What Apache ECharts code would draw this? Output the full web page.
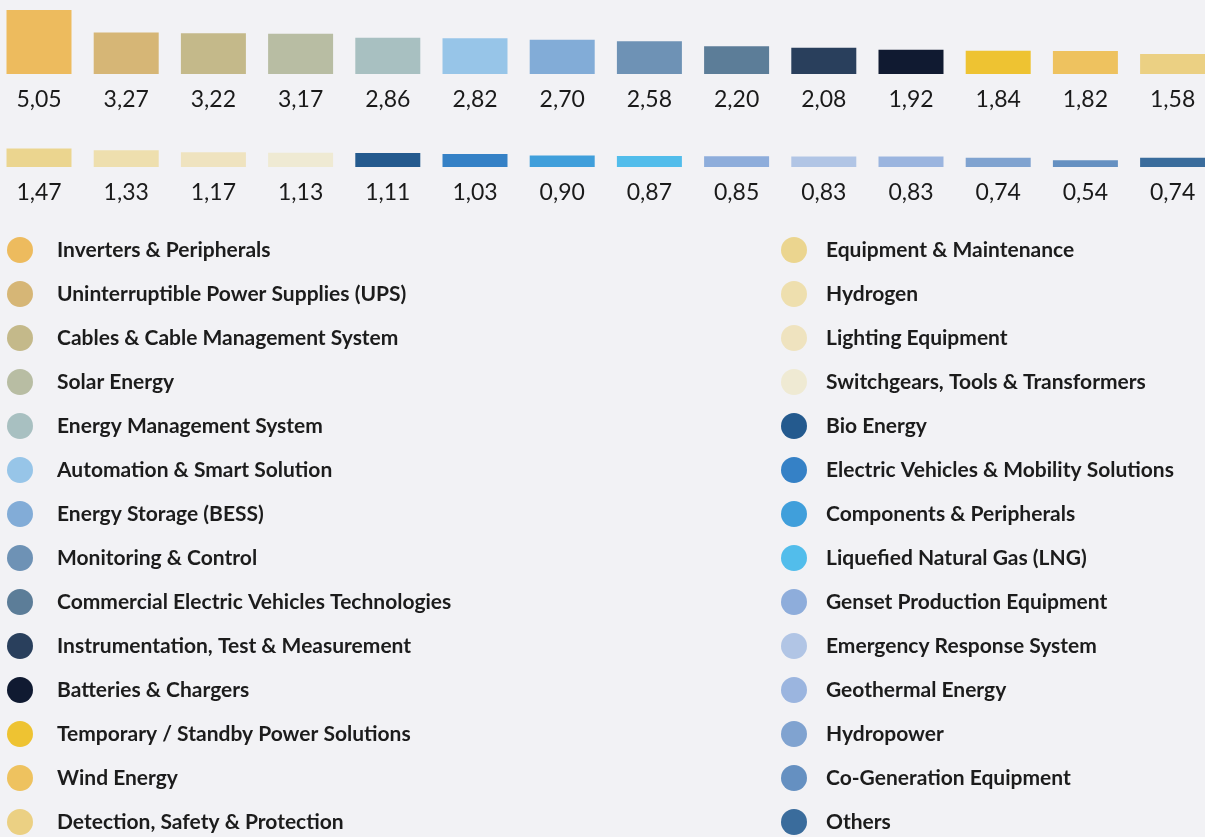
<!DOCTYPE html>
<html>
<head>
<meta charset="utf-8">
<script src="https://cdn.jsdelivr.net/npm/echarts@6/dist/echarts.min.js"></script>
<style>
  html, body { margin: 0; padding: 0; background: #f2f2f5; }
  #chart { width: 1205px; height: 837px; }
</style>
</head>
<body>
<div id="chart"></div>
<script>
// 第一行的类别和数值
var categories1 = [
  "Inverters & Peripherals",
  "Uninterruptible Power Supplies (UPS)",
  "Cables & Cable Management System",
  "Solar Energy",
  "Energy Management System",
  "Automation & Smart Solution",
  "Energy Storage (BESS)",
  "Monitoring & Control",
  "Commercial Electric Vehicles Technologies",
  "Instrumentation, Test & Measurement",
  "Batteries & Chargers",
  "Temporary / Standby Power Solutions",
  "Wind Energy",
  "Detection, Safety & Protection"
];
var values1 = [5.05, 3.27, 3.22, 3.17, 2.86, 2.82, 2.70, 2.58, 2.20, 2.08, 1.92, 1.84, 1.82, 1.58];
var colors1 = ["#edbb5e", "#d6b676", "#c4b98a", "#b8bda3", "#a8c0c1", "#97c5e8", "#82acd7",
               "#6e92b5", "#5c7d98", "#293f5c", "#101a31", "#eec332", "#eec25f", "#ebd083"];

// 第二行
var categories2 = [
  "Equipment & Maintenance",
  "Hydrogen",
  "Lighting Equipment",
  "Switchgears, Tools & Transformers",
  "Bio Energy",
  "Electric Vehicles & Mobility Solutions",
  "Components & Peripherals",
  "Liquefied Natural Gas (LNG)",
  "Genset Production Equipment",
  "Emergency Response System",
  "Geothermal Energy",
  "Hydropower",
  "Co-Generation Equipment",
  "Others"
];
var values2 = [1.47, 1.33, 1.17, 1.13, 1.11, 1.03, 0.90, 0.87, 0.85, 0.83, 0.83, 0.74, 0.54, 0.74];
var colors2 = ["#ebd58f", "#eedfae", "#efe3bf", "#efead3", "#245a8e", "#3581c6", "#409fdb",
               "#52bdeb", "#8eaddb", "#b1c5e5", "#9bb5df", "#80a3d0", "#6590c1", "#3a6c9c"];

(function() {
  var myChart = echarts.init(document.getElementById("chart"));
  var FONT = "Lato";

  // 每个类别一个系列，这样图例可以对应颜色
  function makeSeries(names, values, colors, axisIdx) {
    return names.map(function(name, i) {
      var data = values.map(function(v, j) { return j === i ? v : "-"; });
      return {
        name: name,
        type: "bar",
        xAxisIndex: axisIdx,
        yAxisIndex: axisIdx,
        data: data,
        barWidth: 65,
        barGap: "-100%",
        itemStyle: { color: colors[i] },
        label: {
          show: true,
          position: "bottom",
          distance: 14,
          fontFamily: FONT,
          fontSize: 23,
          color: "#1a1a1a",
          formatter: function(p) {
            return Number(p.value).toFixed(2).replace(".", ",");
          }
        }
      };
    });
  }

  function xAxis(names, idx) {
    return {
      type: "category",
      gridIndex: idx,
      data: names,
      axisLine: { show: false },
      axisTick: { show: false },
      axisLabel: { show: false }
    };
  }

  var legendBase = {
    orient: "vertical",
    top: 232,
    height: 640,
    icon: "circle",
    itemWidth: 26,
    itemHeight: 26,
    itemGap: 18,
    selectedMode: false,
    textStyle: {
      fontFamily: FONT,
      fontSize: 21,
      fontWeight: "bold",
      color: "#1c1c1c"
    }
  };

  var option = {
    backgroundColor: "#f2f2f5",
    animation: false,
    // 图表被裁切，网格要超出画布
    grid: [
      { left: -4.6, right: -11.2, top: -2, height: 76, outerBoundsMode: "none" },
      { left: -4.6, right: -11.2, top: 141.7, height: 25.3, outerBoundsMode: "none" }
    ],
    xAxis: [xAxis(categories1, 0), xAxis(categories2, 1)],
    yAxis: [
      { type: "value", gridIndex: 0, min: 0, max: 6, show: false },
      { type: "value", gridIndex: 1, min: 0, max: 2, show: false }
    ],
    legend: [
      Object.assign({}, legendBase, {
        left: 2,
        data: categories1,
        textStyle: Object.assign({}, legendBase.textStyle, { padding: [0, 0, 0, 19] })
      }),
      Object.assign({}, legendBase, {
        left: 776,
        data: categories2,
        textStyle: Object.assign({}, legendBase.textStyle, { padding: [0, 0, 0, 14] })
      })
    ],
    series: makeSeries(categories1, values1, colors1, 0)
      .concat(makeSeries(categories2, values2, colors2, 1))
  };

  myChart.setOption(option);
  window.addEventListener("resize", function() {
    myChart.resize();
  });
})();
</script>
</body>
</html>
